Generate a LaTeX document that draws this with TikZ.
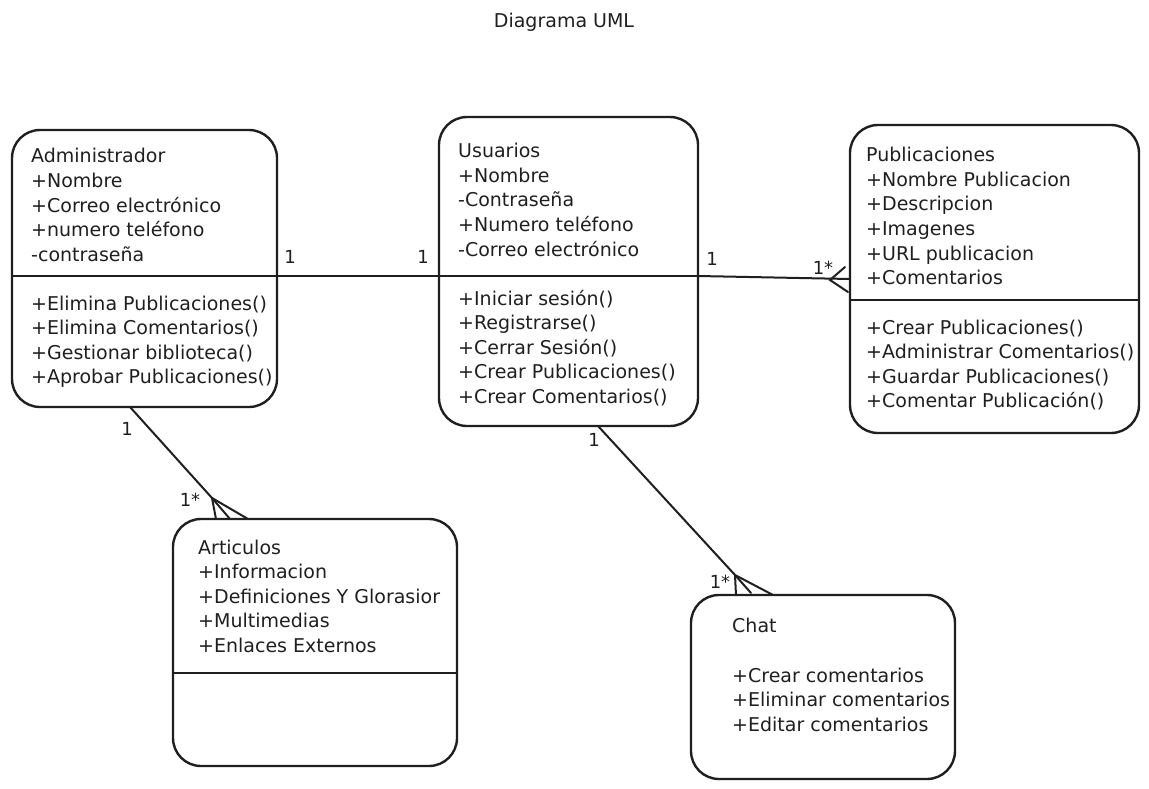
\documentclass[tikz,border=0pt]{standalone}
\usepackage{fontspec}
\setmainfont{DejaVu Sans}
\begin{document}
\begin{tikzpicture}[x=1pt,y=-1pt,
  ink/.style={draw=black!88},
  umlbox/.style={ink, line width=2.4pt, rounded corners=28pt, inner sep=0pt, outer sep=0pt},
  divider/.style={ink, line width=2.4pt},
  link/.style={ink, line width=2pt, line cap=round},
  foot/.style={ink, line width=2pt, line cap=round},
  txt/.style={anchor=base west, inner sep=0pt, font=\fontsize{19}{22}\selectfont, text=black!88},
  mult/.style={inner sep=0pt, font=\fontsize{18}{22}\selectfont, text=black!88}]
\useasboundingbox (0,0) rectangle (1149,789);

% title
\node[anchor=base, inner sep=0pt, font=\fontsize{19}{22}\selectfont, text=black!88] (title) at (564,28) {Diagrama UML};

% class boxes
\node[umlbox, minimum width=265pt, minimum height=277pt] (admin) at (144.5,268.5) {};
\node[umlbox, minimum width=259pt, minimum height=309pt] (usr) at (568.5,271.5) {};
\node[umlbox, minimum width=289pt, minimum height=308pt] (pub) at (994.5,279) {};
\node[umlbox, minimum width=284pt, minimum height=247pt] (art) at (315,642.5) {};
\node[umlbox, minimum width=264pt, minimum height=184pt] (chat) at (823,687) {};

% compartment dividers
\draw[divider] (12,276) -- (277,276);
\draw[divider] (439,276) -- (698,276);
\draw[divider] (850,300) -- (1139,300);
\draw[divider] (173,673) -- (457,673);

% Administrador
\node[txt] (a0) at (31,163) {Administrador};
\node[txt] (a1) at (31,187.5) {+Nombre};
\node[txt] (a2) at (31,212) {+Correo electrónico};
\node[txt] (a3) at (31,236.5) {+numero teléfono};
\node[txt] (a4) at (31,261) {-contraseña};
\node[txt] (a5) at (31,310) {+Elimina Publicaciones()};
\node[txt] (a6) at (31,334.5) {+Elimina Comentarios()};
\node[txt] (a7) at (31,359) {+Gestionar biblioteca()};
\node[txt] (a8) at (31,383.5) {+Aprobar Publicaciones()};

% Usuarios
\node[txt] (u0) at (458,158) {Usuarios};
\node[txt] (u1) at (458,182.5) {+Nombre};
\node[txt] (u2) at (458,207) {-Contraseña};
\node[txt] (u3) at (458,231.5) {+Numero teléfono};
\node[txt] (u4) at (458,256) {-Correo electrónico};
\node[txt] (u5) at (458,305) {+Iniciar sesión()};
\node[txt] (u6) at (458,329.5) {+Registrarse()};
\node[txt] (u7) at (458,354) {+Cerrar Sesión()};
\node[txt] (u8) at (458,378.5) {+Crear Publicaciones()};
\node[txt] (u9) at (458,403) {+Crear Comentarios()};

% Publicaciones
\node[txt] (p0) at (866,162) {Publicaciones};
\node[txt] (p1) at (866,186.5) {+Nombre Publicacion};
\node[txt] (p2) at (866,211) {+Descripcion};
\node[txt] (p3) at (866,235.5) {+Imagenes};
\node[txt] (p4) at (866,260) {+URL publicacion};
\node[txt] (p5) at (866,284.5) {+Comentarios};
\node[txt] (p6) at (866,334) {+Crear Publicaciones()};
\node[txt] (p7) at (866,358.5) {+Administrar Comentarios()};
\node[txt] (p8) at (866,383) {+Guardar Publicaciones()};
\node[txt] (p9) at (866,407.5) {+Comentar Publicación()};

% Articulos
\node[txt] (r0) at (198,554) {Articulos};
\node[txt] (r1) at (198,578.5) {+Informacion};
\node[txt] (r2) at (198,603) {+Definiciones Y Glorasior};
\node[txt] (r3) at (198,627.5) {+Multimedias};
\node[txt] (r4) at (198,652) {+Enlaces Externos};

% Chat
\node[txt] (c0) at (732,632) {Chat};
\node[txt] (c1) at (732,682) {+Crear comentarios};
\node[txt] (c2) at (732,706.5) {+Eliminar comentarios};
\node[txt] (c3) at (732,731) {+Editar comentarios};

% Administrador -- Usuarios (1 : 1)
\draw[link] ([yshift=-7.5pt]admin.east) -- ([yshift=-4.5pt]usr.west);
\node[mult] (m1) at (290,257) {1};
\node[mult] (m2) at (423,257) {1};

% Usuarios -- Publicaciones (1 : 1..*)
\coordinate (pv) at ([xshift=-20pt,yshift=-1pt]pub.west);
\draw[link] ([yshift=-4.5pt]usr.east) -- (pub.west);
\draw[foot] ([xshift=-5pt,yshift=12pt]pub.west) -- (pv) -- ([xshift=-2pt,yshift=-13pt]pub.west);
\node[mult] (m3) at (712,259) {1};
\node[mult] (m4) at (823,268) {1*};

% Administrador -- Articulos (1 : 1..*)
\coordinate (av) at ([xshift=-103pt,yshift=21pt]art.north);
\draw[link] ([xshift=-14.5pt]admin.south) -- (av);
\draw[foot] (av) -- ([xshift=-99pt]art.north);
\draw[foot] (av) -- ([xshift=-85pt]art.north);
\draw[foot] (av) -- ([xshift=-67pt]art.north);
\node[mult] (m5) at (127,429) {1};
\node[mult] (m6) at (190,500) {1*};

% Usuarios -- Chat (1 : 1..*)
\coordinate (cv) at ([xshift=-88pt,yshift=20pt]chat.north);
\draw[link] ([xshift=29.5pt]usr.south) -- (cv);
\draw[foot] (cv) -- ([xshift=-87pt]chat.north);
\draw[foot] (cv) -- ([xshift=-72pt,yshift=2pt]chat.north);
\draw[foot] (cv) -- ([xshift=-50pt]chat.north);
\node[mult] (m7) at (594,440) {1};
\node[mult] (m8) at (720,582) {1*};
\end{tikzpicture}
\end{document}
